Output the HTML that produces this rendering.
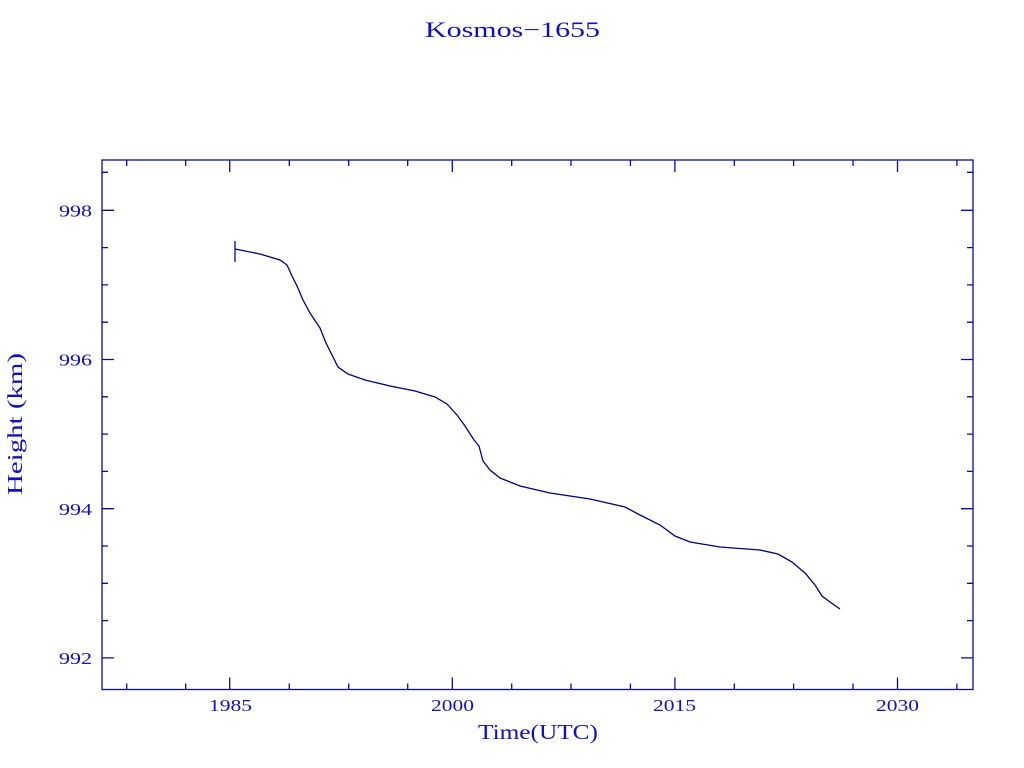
<!DOCTYPE html>
<html><head><meta charset="utf-8"><style>body{margin:0;background:#fff}svg{display:block}</style></head><body>
<svg width="1024" height="768" xmlns="http://www.w3.org/2000/svg" font-family="Liberation Serif, serif" fill="#1010c0">
<text x="425" y="37" font-size="22" textLength="175" lengthAdjust="spacingAndGlyphs">Kosmos−1655</text>
<g stroke="#0a0aa0" stroke-width="1.3" fill="none">
<rect x="102" y="160" width="871" height="529.5"/>
<path d="M229.7 689.5v-12M452.3 689.5v-12M674.9 689.5v-12M897.5 689.5v-12M229.7 160v12M452.3 160v12M674.9 160v12M897.5 160v12
M126.7 689.5v-6M185.7 689.5v-6M289.3 689.5v-6M348.7 689.5v-6M407.7 689.5v-6M511.7 689.5v-6M571 689.5v-6M630.4 689.5v-6M734.3 689.5v-6M793.6 689.5v-6M853 689.5v-6M956.9 689.5v-6
M126.7 160v6M185.7 160v6M289.3 160v6M348.7 160v6M407.7 160v6M511.7 160v6M571 160v6M630.4 160v6M734.3 160v6M793.6 160v6M853 160v6M956.9 160v6
M102 210.3h12M102 359.5h12M102 508.7h12M102 657.9h12M973 210.3h-12M973 359.5h-12M973 508.7h-12M973 657.9h-12
M102 172.3h6M102 247.6h6M102 284.9h6M102 322.2h6M102 396.8h6M102 434.1h6M102 471.4h6M102 546h6M102 583.3h6M102 620.6h6
M973 172.3h-6M973 247.6h-6M973 284.9h-6M973 322.2h-6M973 396.8h-6M973 434.1h-6M973 471.4h-6M973 546h-6M973 583.3h-6M973 620.6h-6"/>
<path d="M235 241v21"/>
<path stroke="#000080" d="M235 249 L260 254 L280 260 L287 265 L292 276 L297 286 L303 300 L310 313 L320 328 L326 343 L333 357 L338 367 L348 374 L365 380 L390 386 L415 391 L435 397 L447 404 L457 415 L465 426 L474 440 L479 446 L483 461 L490 470 L500 478 L520 486 L550 493 L590 499 L625 507 L640 515 L660 525 L675 536 L690 542 L720 547 L760 550 L778 554 L792 562 L805 573 L815 585 L822 596 L830 602 L840 609"/>
</g>
<g font-size="17">
<text x="59" y="216.5" textLength="33" lengthAdjust="spacingAndGlyphs">998</text>
<text x="59" y="365.5" textLength="33" lengthAdjust="spacingAndGlyphs">996</text>
<text x="59" y="515" textLength="33" lengthAdjust="spacingAndGlyphs">994</text>
<text x="59" y="664" textLength="33" lengthAdjust="spacingAndGlyphs">992</text>
<text x="209" y="711" textLength="43" lengthAdjust="spacingAndGlyphs">1985</text>
<text x="431" y="711" textLength="43" lengthAdjust="spacingAndGlyphs">2000</text>
<text x="653" y="711" textLength="43" lengthAdjust="spacingAndGlyphs">2015</text>
<text x="876" y="711" textLength="43" lengthAdjust="spacingAndGlyphs">2030</text>
</g>
<text x="478" y="739" font-size="21" textLength="120" lengthAdjust="spacingAndGlyphs">Time(UTC)</text>
<text transform="translate(22 495) rotate(-90)" font-size="21" textLength="142" lengthAdjust="spacingAndGlyphs">Height (km)</text>
</svg>
</body></html>
